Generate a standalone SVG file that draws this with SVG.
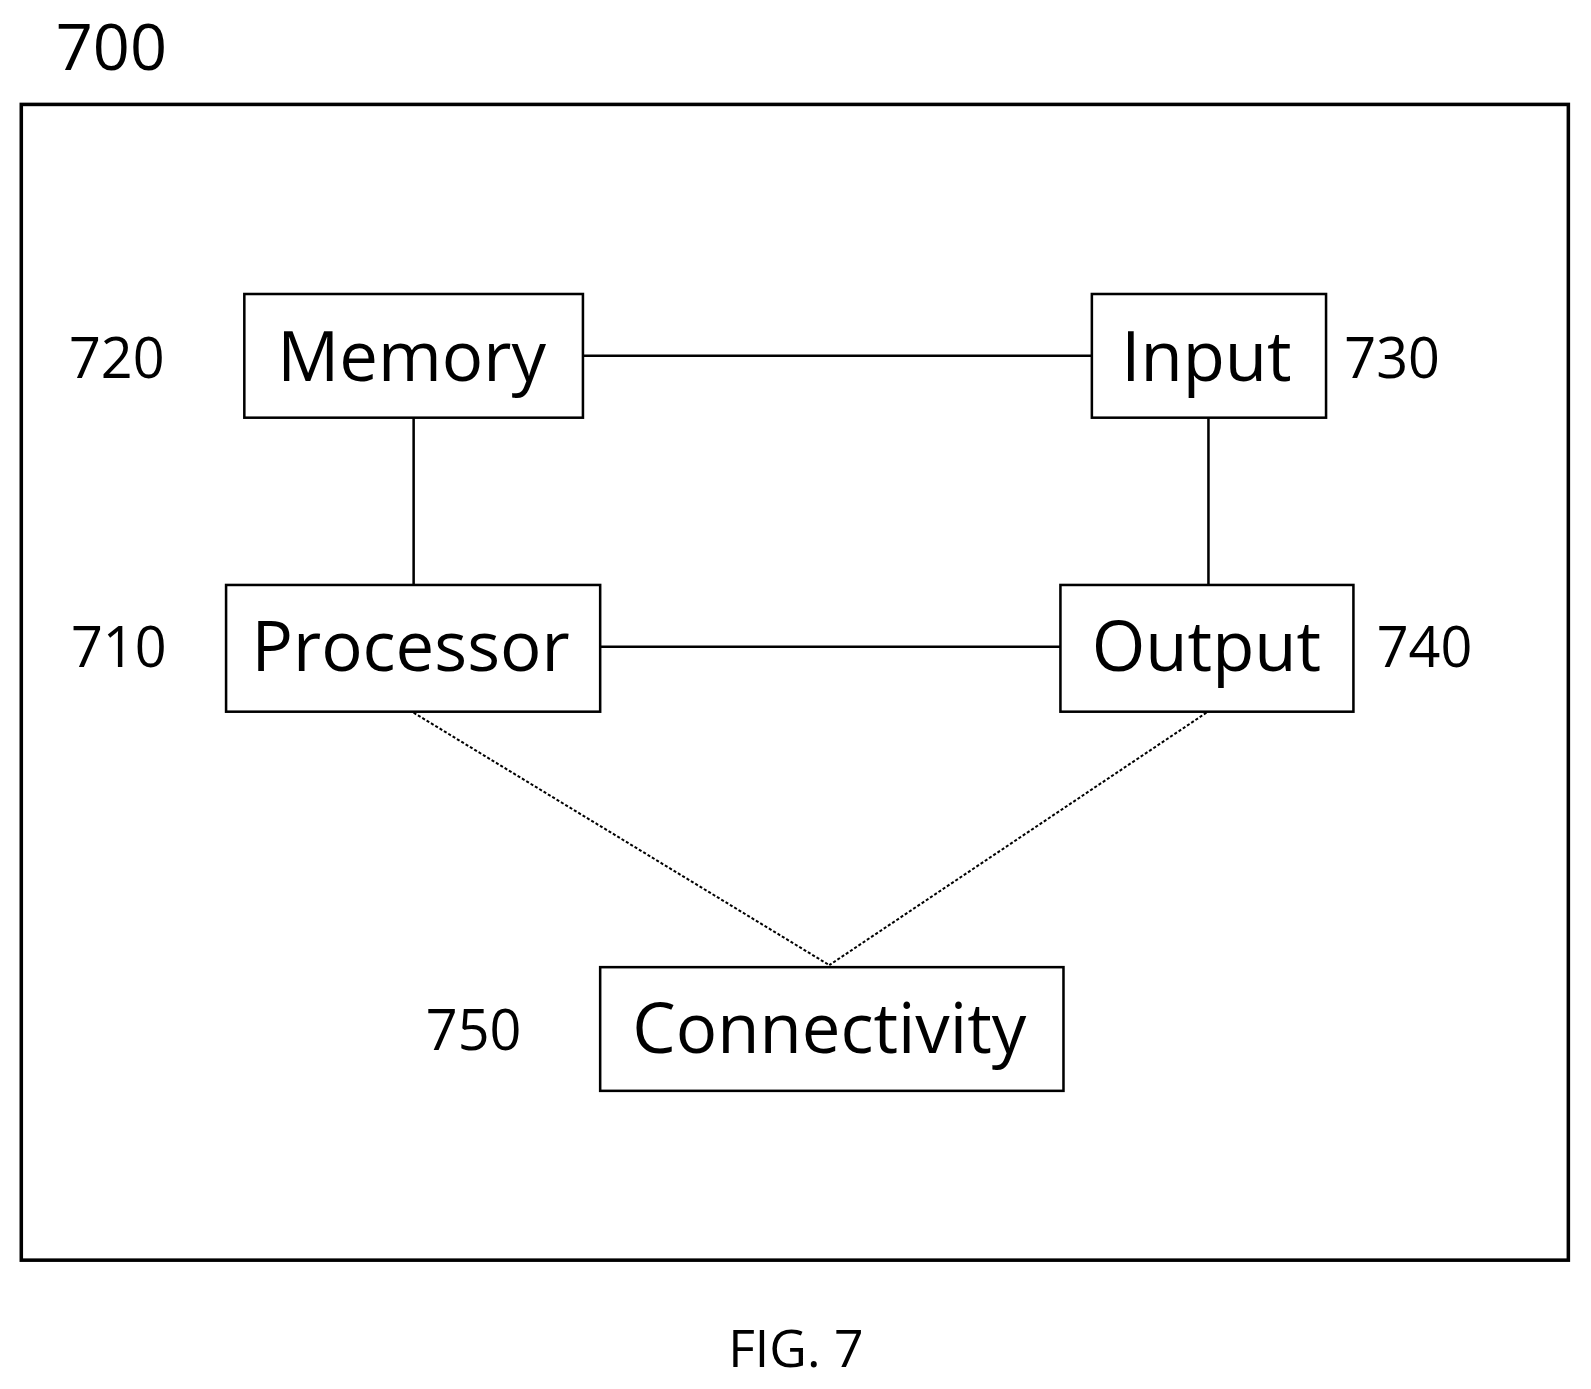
<svg xmlns="http://www.w3.org/2000/svg" width="1591" height="1389" viewBox="0 0 1591 1389">
<style>
.b{fill:#fff;stroke:#000;stroke-width:2.5}
.t{font-family:"Open Sans","Noto Sans",sans-serif;font-size:68px;text-anchor:middle;fill:#000}
.l{font-family:"Open Sans","Noto Sans",sans-serif;font-size:55px;fill:#000}
.c{stroke:#000;stroke-width:2.5;fill:none}
.d{stroke:#000;stroke-width:2;stroke-dasharray:3 2;fill:none}
</style>
<rect width="1591" height="1389" fill="#fff"/>
<g transform="scale(1.0138)">
<text class="l" x="55" y="69" style="font-size:64px">700</text>
<rect x="21" y="103" width="1526" height="1140" fill="none" stroke="#000" stroke-width="3.5"/>
<g id="connectors">
<line class="c" x1="575" y1="351" x2="1077" y2="351"/>
<line class="c" x1="408" y1="412" x2="408" y2="577"/>
<line class="c" x1="1192" y1="412" x2="1192" y2="577"/>
<line class="c" x1="592" y1="638" x2="1046" y2="638"/>
<line class="d" x1="408" y1="703" x2="818" y2="952"/>
<line class="d" x1="1190" y1="703" x2="818" y2="952"/>
</g>
<g id="memory"><rect class="b" x="241" y="290" width="334" height="122"/><text class="t" x="406" y="376">Memory</text><text class="l" x="68" y="373">720</text></g>
<g id="input"><rect class="b" x="1077" y="290" width="231" height="122"/><text class="t" x="1190" y="376">Input</text><text class="l" x="1326" y="373">730</text></g>
<g id="processor"><rect class="b" x="223" y="577" width="369" height="125"/><text class="t" x="405" y="662">Processor</text><text class="l" x="70" y="658">710</text></g>
<g id="output"><rect class="b" x="1046" y="577" width="289" height="125"/><text class="t" x="1190" y="662">Output</text><text class="l" x="1358" y="658">740</text></g>
<g id="connectivity"><rect class="b" x="592" y="954" width="457" height="122"/><text class="t" x="818" y="1039">Connectivity</text><text class="l" x="420" y="1036">750</text></g>
<text class="l" x="785" y="1348" text-anchor="middle" style="font-size:51px">FIG. 7</text>
</g>
</svg>
